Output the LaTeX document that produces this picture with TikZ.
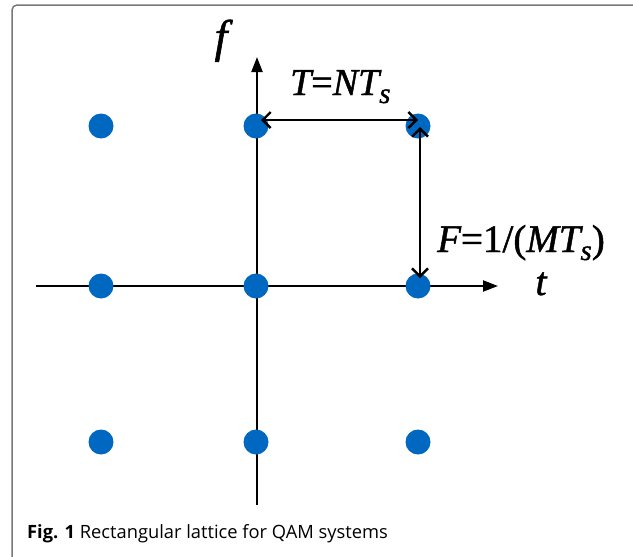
\documentclass[tikz,border=0pt]{standalone}
\usepackage{fontspec}
\setmainfont{Liberation Serif}
\newfontfamily\capfont{Open Sans}
\newfontface\lblit[FakeBold=1.2]{Liberation Serif Italic}
\newfontface\lblup[FakeBold=1.2]{Liberation Serif}
\usetikzlibrary{arrows.meta}
\definecolor{dotblue}{RGB}{0,104,192}
\definecolor{framegray}{RGB}{120,120,120}
\newcommand{\lowsub}[1]{\raisebox{-8pt}{\fontsize{29}{29}\selectfont #1}}
\begin{document}
\begin{tikzpicture}[x=1pt,y=-1pt,
 dot/.style={circle,fill=dotblue,minimum size=25pt,inner sep=0pt},
 axis/.style={line width=2.2pt,-{Triangle[length=15pt,width=11pt]}},
 span/.style={line width=2.2pt,{Straight Barb[length=8pt,width=16pt,line width=2.4pt]}-{Straight Barb[length=8pt,width=16pt,line width=2.4pt]}},
 lbl/.style={inner sep=0pt,font=\fontsize{38}{38}\lblit},
 caption/.style={inner sep=0pt,anchor=base west,font=\capfont\fontsize{18.3}{18.3}\selectfont},
 frame/.style={draw=framegray,line width=1.5pt,rounded corners=5pt}
]
\useasboundingbox (0,0) rectangle (633,557);
% frame
\draw[frame] (12,560) -- (12,5) -- (640,5);
% axes
\coordinate (fbot) at (257,505);
\coordinate (ftop) at (257,57);
\coordinate (tleft) at (36,286);
\coordinate (tright) at (498,286);
\draw[axis] (fbot) -- (ftop);
\draw[axis] (tleft) -- (tright);
% lattice points
\node[dot] (d11) at (101,126) {};
\node[dot] (d12) at (256,126) {};
\node[dot] (d13) at (418,126) {};
\node[dot] (d21) at (101,286) {};
\node[dot] (d22) at (256,286) {};
\node[dot] (d23) at (418,286) {};
\node[dot] (d31) at (101,442) {};
\node[dot] (d32) at (256,442) {};
\node[dot] (d33) at (418,442) {};
% spacing arrows
\draw[span] ([xshift=5pt,yshift=6pt]d12.center) -- ([xshift=0pt,yshift=6pt]d13.center);
\draw[span] ([xshift=2pt,yshift=-1pt]d13.center) -- ([xshift=2pt,yshift=8pt]d23.center);
% labels
\node[lbl,anchor=base,font=\fontsize{46}{46}\lblit] (flab) at (221,52) {f};
\node[lbl,anchor=base,font=\fontsize{40}{40}\lblit] (tlab) at (541,295) {t};
\node[lbl,anchor=base west] (Tlab) at (290,95) {T{\lblup=}NT\lowsub{s}};
\node[lbl,anchor=base west,font=\fontsize{39}{39}\lblit] (Flab) at (437,252) {F{\lblup=1/(}MT\lowsub{s}{\lblup)}};
% caption
\node[caption] (cap) at (27,538) {\textbf{Fig. 1} Rectangular lattice for QAM systems};
\end{tikzpicture}
\end{document}
